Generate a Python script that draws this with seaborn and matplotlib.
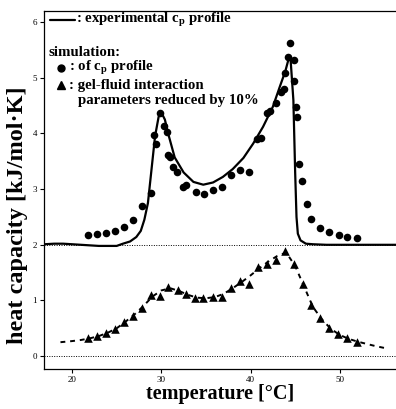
import matplotlib
matplotlib.use("Agg")
import matplotlib.pyplot as plt
import seaborn as sns

# experimental cp profile (solid line)
exp_T = [16.9, 18, 19, 20, 21, 22, 23, 24, 25, 25.7, 26.5, 27.2, 27.7, 28.1, 28.5,
         28.9, 29.3, 29.7, 30.0, 30.4, 30.8, 31.5, 32.5, 33.6, 34.7, 35.8, 36.9,
         38.0, 39.2, 40.3, 41.4, 42.5, 43.3, 43.9, 44.3, 44.5, 44.8, 45.0, 45.15,
         45.3, 45.6, 46.2, 47.0, 48.5, 50, 52, 54, 56.3]
exp_cp = [2.01, 2.02, 2.02, 2.01, 2.0, 1.99, 1.98, 1.98, 1.98, 2.02, 2.06, 2.14,
          2.25, 2.45, 2.75, 3.35, 3.95, 4.3, 4.38, 4.25, 3.98, 3.57, 3.30, 3.13,
          3.08, 3.12, 3.22, 3.36, 3.56, 3.82, 4.12, 4.48, 4.85, 5.12, 5.36, 5.3,
          4.6, 3.3, 2.5, 2.2, 2.08, 2.02, 2.01, 2.0, 2.0, 2.0, 2.0, 2.0]

# simulation of cp profile (circles)
circ_T = [21.8, 22.8, 23.8, 24.8, 25.8, 26.8, 27.8, 28.8, 29.2, 29.4, 29.9, 30.3,
          30.6, 30.8, 31.0, 31.3, 31.8, 32.4, 32.8, 33.9, 34.8, 35.8, 36.8, 37.8,
          38.8, 39.8, 40.7, 41.2, 41.8, 42.2, 42.8, 43.4, 43.7, 43.9, 44.2, 44.4,
          44.9, 44.9, 45.1, 45.2, 45.4, 45.8, 46.3, 46.8, 47.8, 48.8, 49.9, 50.8, 51.9]
circ_cp = [2.17, 2.19, 2.22, 2.25, 2.32, 2.44, 2.69, 2.93, 3.97, 3.81, 4.36, 4.14,
           4.03, 3.62, 3.58, 3.40, 3.30, 3.03, 3.07, 2.95, 2.92, 2.99, 3.03, 3.26,
           3.34, 3.31, 3.90, 3.91, 4.36, 4.41, 4.54, 4.75, 4.80, 5.08, 5.38, 5.63,
           5.32, 4.94, 4.48, 4.29, 3.46, 3.15, 2.74, 2.47, 2.30, 2.23, 2.18, 2.14, 2.12]

# gel-fluid interaction parameters reduced by 10% (triangles)
tri_T = [21.8, 22.8, 23.8, 24.8, 25.8, 26.8, 27.8, 28.8, 29.8, 30.8, 31.9, 32.8,
         33.8, 34.7, 35.8, 36.8, 37.8, 38.8, 39.8, 40.8, 41.8, 42.8, 43.9, 44.9,
         45.9, 46.8, 47.8, 48.8, 49.8, 50.8, 51.9]
tri_cp = [0.32, 0.37, 0.41, 0.48, 0.62, 0.72, 0.87, 1.09, 1.08, 1.24, 1.19, 1.11,
          1.04, 1.04, 1.07, 1.07, 1.22, 1.35, 1.29, 1.60, 1.65, 1.73, 1.88, 1.66,
          1.30, 0.92, 0.69, 0.51, 0.39, 0.32, 0.26]

# dashed curve through the triangles
dash_T = [18.7, 20, 21, 22, 23, 24, 25, 26, 27, 28, 29, 30, 31, 32, 33, 34, 35, 36,
          37, 38, 39, 40, 41, 42, 43, 44, 45, 46, 47, 48, 49, 50, 51, 52, 53, 54, 55.2]
dash_cp = [0.25, 0.27, 0.29, 0.32, 0.36, 0.42, 0.5, 0.62, 0.75, 0.9, 1.07, 1.18,
           1.22, 1.17, 1.1, 1.05, 1.04, 1.06, 1.12, 1.22, 1.33, 1.45, 1.58, 1.7,
           1.8, 1.86, 1.62, 1.25, 0.88, 0.66, 0.49, 0.38, 0.31, 0.26, 0.22, 0.18, 0.14]

sns.set_style("ticks")
plt.rcParams["font.family"] = ["Liberation Serif", "DejaVu Serif"]
plt.rcParams["text.color"] = "black"
plt.rcParams["axes.labelcolor"] = "black"
plt.rcParams["xtick.color"] = "black"
plt.rcParams["ytick.color"] = "black"
plt.rcParams["axes.edgecolor"] = "black"
plt.rcParams["mathtext.fontset"] = "custom"
plt.rcParams["mathtext.rm"] = "Liberation Serif:bold"
plt.rcParams["mathtext.bf"] = "Liberation Serif:bold"
plt.rcParams["mathtext.it"] = "Liberation Serif:bold"

fig = plt.figure(figsize=(3.96, 4.09), dpi=100)
ax = fig.add_axes([0.111, 0.098, 0.889, 0.875])

ax.axhline(0, color="black", lw=0.7, ls=(0, (1, 1.5)))
ax.axhline(2, color="black", lw=0.7, ls=(0, (1, 1.5)))

sns.lineplot(x=exp_T, y=exp_cp, ax=ax, color="black", lw=1.6, sort=False)
sns.lineplot(x=dash_T, y=dash_cp, ax=ax, color="black", lw=1.4, sort=False,
             linestyle=(0, (2.5, 2.5)))
sns.scatterplot(x=circ_T, y=circ_cp, ax=ax, color="black", marker="o", s=30,
                edgecolor="black", linewidth=0)
sns.scatterplot(x=tri_T, y=tri_cp, ax=ax, color="black", marker="^", s=38,
                edgecolor="black", linewidth=0)

ax.set_xlim(16.85, 56.3)
ax.set_ylim(-0.23, 6.2)
ax.set_xticks([20, 30, 40, 50])
ax.set_yticks([0, 1, 2, 3, 4, 5, 6])
ax.tick_params(axis="both", labelsize=6.5, length=3, width=0.8, pad=2)
for s in ["left", "bottom", "top"]:
    ax.spines[s].set_linewidth(0.9)
ax.spines["right"].set_visible(False)

ax.set_xlabel("temperature [°C]", fontsize=14.5, fontweight="bold", labelpad=0)
ax.set_ylabel("heat capacity [kJ/mol·K]", fontsize=17.5, fontweight="bold")
ax.yaxis.set_label_coords(-0.045, 0.43)

# legend block drawn as text in axes coordinates
tk = dict(fontsize=10.7, fontweight="bold", transform=ax.transAxes, va="center")
ax.plot([0.017, 0.087], [0.976, 0.976], color="black", lw=1.6, transform=ax.transAxes)
ax.text(0.09, 0.976, r": experimental c$_\mathbf{p}$ profile", **tk)
ax.text(0.012, 0.885, "simulation:", **tk)
ax.plot([0.048], [0.841], "o", color="black", ms=5, transform=ax.transAxes)
ax.text(0.072, 0.841, r": of c$_\mathbf{p}$ profile", **tk)
ax.plot([0.048], [0.793], "^", color="black", ms=5.5, transform=ax.transAxes)
ax.text(0.072, 0.793, ": gel-fluid interaction", **tk)
ax.text(0.098, 0.749, "parameters reduced by 10%", **tk)

fig.savefig("out.png", dpi=100)
